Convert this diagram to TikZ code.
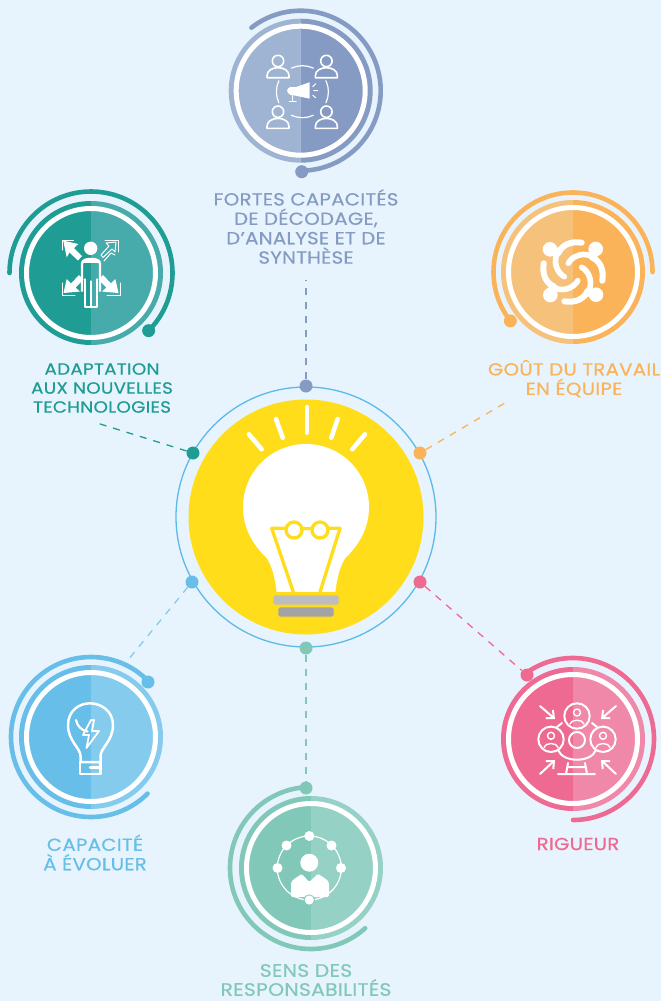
\documentclass[tikz,border=0pt]{standalone}
\usepackage{fontspec}
\usepackage{tikz}
\usetikzlibrary{arrows.meta}
\newfontfamily\lblfont{Poppins}[FakeBold=0.5,FakeStretch=1.13,LetterSpace=1.5]
\definecolor{bgcol}{HTML}{E7F4FD}
\definecolor{sunny}{HTML}{FFDD1B}
\definecolor{ringblue}{HTML}{5DB9E8}
\definecolor{barA}{HTML}{BDBDBD}
\definecolor{barB}{HTML}{A3A3A5}
\definecolor{slateA}{HTML}{9FB3D3}
\definecolor{slateB}{HTML}{869BC3}
\definecolor{tealA}{HTML}{1F9D94}
\definecolor{tealB}{HTML}{48ABAB}
\definecolor{amberA}{HTML}{F6C27B}
\definecolor{amberB}{HTML}{FBB35A}
\definecolor{skyA}{HTML}{66BEE9}
\definecolor{skyB}{HTML}{85CBEE}
\definecolor{roseA}{HTML}{EF6A92}
\definecolor{roseB}{HTML}{F088A9}
\definecolor{mintA}{HTML}{82C8B9}
\definecolor{mintB}{HTML}{96D1C6}
\tikzset{
    pin/.style={circle,inner sep=0pt,minimum size=13pt},
    link/.style={line width=1.3pt,dash pattern=on 7pt off 7pt},
    swirl/.style={line width=4.6pt,line cap=round},
    lbl/.style={align=center,inner sep=0pt,font=\lblfont\fontsize{17.5}{19.4}\selectfont},
    icon/.style={white,line width=1.6pt,line cap=round,line join=round},
    ray/.style={white,line width=4.5pt,line cap=round}
}
% disc with its two halves, white ring and split outer band
\newcommand{\badge}[2]{
    \fill[#1] (0,-72) arc[start angle=-90,end angle=-270,radius=72] -- cycle;
    \fill[#2] (0,-72) arc[start angle=-90,end angle=90,radius=72] -- cycle;
    \draw[white,line width=5pt] (0,0) circle (64.5);
}
\newcommand{\headman}{
    \draw[icon] (0,-16.7) circle (5.7);
    \draw[icon] (-11,0) -- (-11,-2) .. controls (-11,-7) and (-6,-10) .. (0,-10)
        .. controls (6,-10) and (11,-7) .. (11,-2) -- (11,0) -- cycle;
}
\begin{document}
\begin{tikzpicture}[x=1pt,y=-1pt]
    \fill[bgcol] (0,0) rectangle (661,1001);
    \useasboundingbox (0,0) rectangle (661,1001);

    % top badge
    \begin{scope}[shift={(300.7,90.7)}]
        \badge{slateA}{slateB}
        \draw[swirl,slateB] (-128:80) arc[start angle=-128,end angle=90,radius=80];
        \node[pin,fill=slateB] (pinTop) at (1,81) {};
        \foreach \px/\py in {-22.7/-13,25.7/-13,-22.7/37.7,25.7/37.7} {
            \begin{scope}[shift={(\px,\py)}] \headman \end{scope}
        }
        \foreach \a in {-90,0,90,180}
            \draw[icon,line width=1.2pt] (\a-25:26)++(1.7,1) arc[start angle=\a-25,end angle=\a+25,radius=26];
        \fill[white] (-10,0) circle (3.6);
        \fill[white] (-11,-3.5) -- (-5,-3.5) -- (9,-8.5) -- (9,8) -- (-5,5) -- (-11,4) -- cycle;
        \draw[icon,line width=1pt] (-8,5) -- (-8,10.5) (-11.5,10.5) -- (-4.5,10.5);
        \draw[icon,line width=1pt] (12,-4) -- (15,-7) (13,0) -- (17,0) (12,4.5) -- (15,7);
    \end{scope}

    % teal badge
    \begin{scope}[shift={(91,273)}]
        \badge{tealA}{tealB}
        \draw[swirl,tealA] (-180:81.5) arc[start angle=-180,end angle=45,radius=81.5];
        \node[pin,fill=tealA] (pinTeal) at (45:81.5) {};
        \fill[white] (-0.3,-24.7) circle (6.7);
        \fill[white] (-27.7,-32.3) -- (-12.7,-29) -- (-17,-25) -- (-9,-17) -- (-13,-12.5) -- (-21.5,-20.5) -- (-24.3,-15.7) -- cycle;
        \foreach \s in {1,-1} {
            \begin{scope}[xscale=\s]
                \fill[white] (-27.5,20) -- (-24.3,6) -- (-20,10.5) -- (-12,2) -- (-7.5,6.5) -- (-15.5,14.5) -- (-11,18.5) -- cycle;
                \draw[icon,line width=1pt] (-29,10) -- (-29,22) -- (-16,22);
            \end{scope}
        }
        \draw[icon,line width=1pt] (-28.7,-23) -- (-28.7,-33) -- (-17.7,-33) (14,-33) -- (27.5,-33) -- (27.5,-21);
        \draw[white,line width=1pt,line join=round,fill=tealB] (25,-31) -- (15,-30) -- (18,-27) -- (10,-18) -- (12,-15.5)
            -- (21,-24) -- (24,-21) -- cycle;
        \draw[icon,line width=1pt] (13,-12) -- (20,-20) -- (24,-18);
        \draw[white,line width=2.4pt,line join=round] (-9,18.7) -- (-9,-9) .. controls (-9,-13) and (-5,-14) .. (0,-14)
            .. controls (5,-14) and (9,-13) .. (9,-9) -- (9,18.7);
        \draw[white,line width=3pt] (-8,-11.5) -- (8,-11.5);
        \draw[icon,line width=1.1pt] (-6,6) -- (-6,34) -- (6,34) -- (6,6) (0,8) -- (0,34);
    \end{scope}

    % amber badge
    \begin{scope}[shift={(573,272)}]
        \badge{amberA}{amberB}
        \draw[swirl,amberB] (0:79.5) arc[start angle=0,end angle=-218,radius=79.5];
        \node[pin,fill=amberB] (pinAmber) at (-218:79.5) {};
        \foreach \a in {0,90,180,270} {
            \begin{scope}[rotate=\a]
                \fill[white] (-23,-22.7) circle (7.3);
                \draw[white,line width=6pt,line cap=round] (-14.7,-18.7) .. controls (-11,-27) and (-3,-31) .. (8.7,-29.3);
                \draw[white,line width=5.6pt,line cap=round] (-4.7,-8.7) .. controls (-1,-16) and (12,-22) .. (23,-13);
            \end{scope}
        }
    \end{scope}

    % sky badge
    \begin{scope}[shift={(91,737)}]
        \badge{skyA}{skyB}
        \draw[swirl,skyA] (-45:80) arc[start angle=-45,end angle=-315,radius=80];
        \node[pin,fill=skyA] (pinSky) at (57,-55) {};
        \draw[icon,line width=2.5pt] (-10.5,25) -- (-10.5,19) .. controls (-10.5,11) and (-23,4) .. (-23,-12)
            .. controls (-23,-26) and (-12,-33.7) .. (-1,-33.7) .. controls (10,-33.7) and (22,-26) .. (22,-12)
            .. controls (22,4) and (9.5,11) .. (9.5,19) -- (9.5,25) -- cycle;
        \draw[icon,line width=2.5pt] (-11,25) -- (-11,37) -- (9.5,37) -- (9.5,25);
        \draw[icon,line width=2.2pt] (-1,30.5) -- (8,30.5);
        \draw[icon,line width=2.2pt] (-15,-17) arc[start angle=170,end angle=100,radius=14.3];
        \draw[icon,line width=1.8pt] (0,-17) -- (-8,-2) -- (-2,-2) -- (-4.5,11) -- (8,-6) -- (1,-6) -- (3,-17) -- cycle;
    \end{scope}

    % rose badge
    \begin{scope}[shift={(573,739)}]
        \badge{roseA}{roseB}
        \draw[swirl,roseA] (-126:81) arc[start angle=-126,end angle=90,radius=81];
        \node[pin,fill=roseA] (pinRose) at (-46,-64) {};
        \foreach \hx/\hy in {4/-23,-22/0.3,30/0.3} {
            \begin{scope}[shift={(\hx,\hy)}]
                \draw[icon,line width=2pt] (0,0) circle (12.7);
                \draw[icon,line width=1.4pt] (0,-3.5) circle (3.5);
                \draw[icon,line width=1.4pt] (-7,8) .. controls (-6,3) and (6,3) .. (7,8);
            \end{scope}
        }
        \draw[icon,line width=2pt] (4,1) circle (8);
        \draw[icon,line width=2pt] (-11,-16) -- (-16,-12) (19,-16) -- (24,-12);
        \draw[icon,line width=2pt] (-15,11) .. controls (-10,24) and (18,24) .. (23,11);
        \draw[icon,line width=2pt] (-15,35) -- (22,35) (-5,24) -- (-7,35) (12,24) -- (14,35) (-5,28) -- (12,28);
        \foreach \ax/\ay/\bx/\by in {-33/-33/-18/-20,43/-33/28/-20,-33/35/-18/21,43/35/28/21}
            \draw[icon,line width=2pt,-{Straight Barb[length=6pt,width=11pt]}] (\ax,\ay) -- (\bx,\by);
    \end{scope}

    % mint badge
    \begin{scope}[shift={(311,868)}]
        \badge{mintA}{mintB}
        \draw[swirl,mintA] (-95:81) arc[start angle=-95,end angle=-312,radius=81];
        \node[pin,fill=mintA] (pinMint) at (-5,-80) {};
        \draw[icon,line width=1.2pt] (-1.7,0) circle (32);
        \fill[white] (-1.7,-5.3) circle (9);
        \fill[white,rounded corners=1.5pt] (-20,29) -- (-20,14) .. controls (-16,10) and (-12,8) .. (-9.5,5.7) -- (-1.7,14) -- (7,5.7)
            .. controls (10,8) and (14,10) .. (18,14) -- (18,29) -- cycle;
        \foreach \sx/\sy in {-1.7/-32,-24.5/-22.5,20.5/-22.5,-33.5/0,30/0}
            \fill[white] (\sx,\sy) circle (5);
        \draw[fill=white,draw=mintA,line width=0.8pt] (-1.7,32) circle (5.2);
    \end{scope}

    % centre
    \node[circle,fill=sunny,minimum size=235pt,inner sep=0pt] (core) at (306,517) {};
    \draw[ringblue,line width=1.3pt] (core.center) circle (130);
    \fill[white] (276.7,592) .. controls (275,578) and (272,566) .. (266.7,558)
        .. controls (251,543) and (243,526) .. (243,507) arc[start angle=180,end angle=360,radius=63]
        .. controls (369,526) and (361,543) .. (345.3,558)
        .. controls (340,566) and (337,578) .. (335.3,592) -- cycle;
    \draw[ray] (307,407) -- (307,432.7);
    \draw[ray] (276,419) -- (282.7,437.7);
    \draw[ray] (249,434.3) -- (261.7,449.3);
    \draw[ray] (337.7,419) -- (331.3,437.7);
    \draw[ray] (365,434.3) -- (352.3,449.3);
    \draw[sunny,line width=3.3pt,line join=round] (293.3,592) -- (271.7,528.3) -- (286,528.3)
        (328,528.3) -- (340,528.3) -- (320,592);
    \draw[sunny,line width=3.3pt] (294,530) circle (8) (320,530) circle (8) (302,528.5) -- (312,528.5);
    \draw[sunny,line width=2pt] (276.7,592.5) -- (335.3,592.5);
    \draw[fill=barA,rounded corners=2pt,draw=sunny,line width=0.8pt] (273,595) rectangle (339,605);
    \draw[fill=barB,rounded corners=2pt,draw=sunny,line width=0.8pt] (278,607) rectangle (334,617);

    % pins on the thin ring and their links
    \node[pin,fill=slateB] (ringTop) at (306,386) {};
    \node[pin,fill=tealA] (ringTeal) at (193,453) {};
    \node[pin,fill=amberB] (ringAmber) at (420,453) {};
    \node[pin,fill=skyA] (ringSky) at (192,582) {};
    \node[pin,fill=roseA] (ringRose) at (420,582) {};
    \node[pin,fill=mintA] (ringMint) at (306,648) {};
    \coordinate (endTop) at (306,280);
    \coordinate (endTeal) at (97,423);
    \coordinate (endAmber) at (510,400);
    \coordinate (endSky) at (128,660);
    \draw[link,slateB] (ringTop) -- (endTop);
    \draw[link,tealA] (ringTeal) -- (endTeal);
    \draw[link,amberB] (ringAmber) -- (endAmber);
    \draw[link,skyB] (ringSky) -- (endSky);
    \draw[link,roseA] (ringRose) -- (pinRose);
    \draw[link,mintA] (ringMint) -- (pinMint);

    % labels
    \node[lbl,text=slateB] (txtTop) at (306,226.5) {FORTES CAPACITÉS\\DE DÉCODAGE,\\D’ANALYSE ET DE\\SYNTHÈSE};
    \node[lbl,text=tealA,font=\lblfont\fontsize{16.3}{19}\selectfont] (txtTeal) at (102,388) {ADAPTATION\\AUX NOUVELLES\\TECHNOLOGIES};
    \node[lbl,text=amberB] (txtAmber) at (574,378.5) {GOÛT DU TRAVAIL\\EN ÉQUIPE};
    \node[lbl,text=skyA] (txtSky) at (95,852.5) {CAPACITÉ\\À ÉVOLUER};
    \node[lbl,text=roseA] (txtRose) at (578,844) {RIGUEUR};
    \node[lbl,text=mintA,font=\lblfont\fontsize{18}{19}\selectfont] (txtMint) at (306,980) {SENS DES\\RESPONSABILITÉS};
\end{tikzpicture}
\end{document}
